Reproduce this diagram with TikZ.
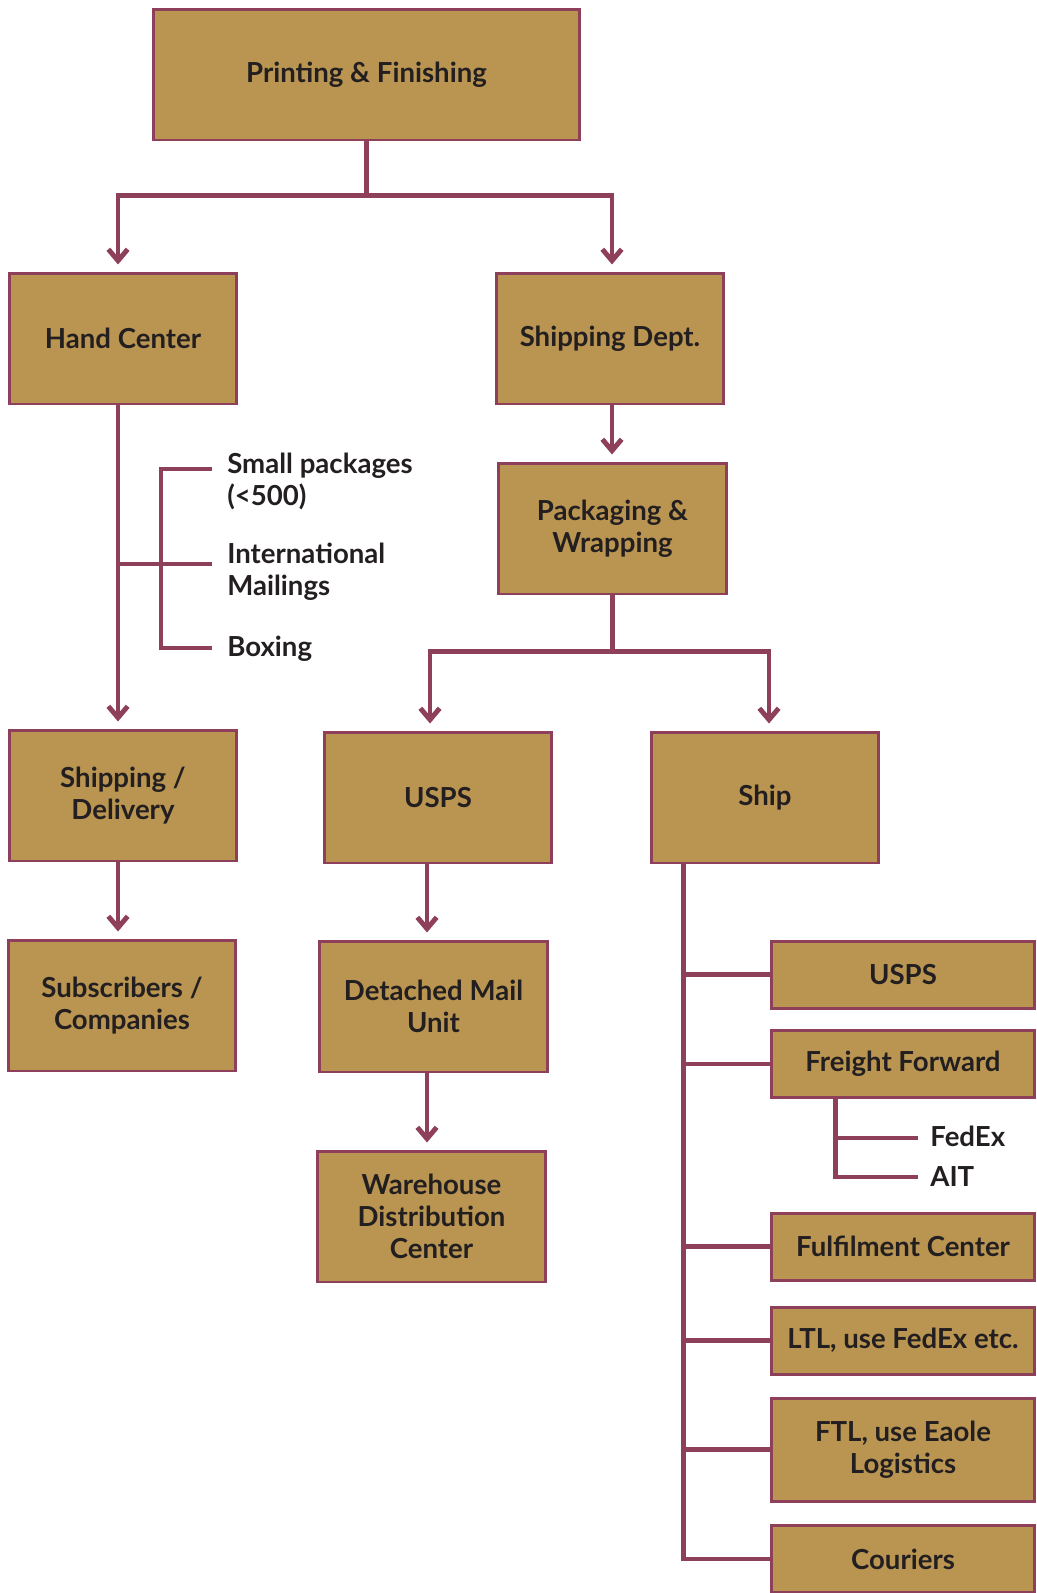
\documentclass[tikz,border=0pt]{standalone}
\usepackage{fontspec}
\setmainfont{Lato}[UprightFont={* Bold}]
\usetikzlibrary{arrows.meta,calc}
\definecolor{boxfill}{HTML}{B99551}
\definecolor{plum}{HTML}{8E3F5A}
\definecolor{ink}{HTML}{231F20}

\begin{document}
\begin{tikzpicture}[x=0.02cm,y=-0.02cm,
  every node/.style={font=\fontsize{15.7}{18.2}\selectfont, text=ink},
  box/.style={draw=plum, fill=boxfill, line width=1.7pt, minimum width=4.56cm,
              minimum height=2.62cm, align=center, inner sep=0pt},
  wide/.style={box, minimum width=8.54cm},
  slim/.style={box, minimum width=5.28cm, minimum height=1.34cm},
  link/.style={draw=plum, line width=2.8pt},
  arrowlink/.style={link, -{Straight Barb[length=6.5pt,width=11pt]}, shorten >=4pt},
  note/.style={anchor=west, align=left, inner sep=0pt}]

\useasboundingbox (0,0) rectangle (1037,1593);

% boxes
\node[wide] (pf) at (366.5,74.5) {Printing \& Finishing};
\node[box] (hc) at (123,338.5) {Hand Center};
\node[box] (sd) at (610,338.5) {Shipping Dept.};
\node[box] (pw) at (612.5,528.5) {Packaging \&\\Wrapping};
\node[box] (sdl) at (123,795.5) {Shipping /\\Delivery};
\node[box] (usps) at (438,797.5) {USPS};
\node[box] (ship) at (765,797.5) {Ship};
\node[box] (subs) at (122,1005.5) {Subscribers /\\Companies};
\node[box] (dmu) at (433.5,1006.5) {Detached Mail\\Unit};
\node[box] (wdc) at (431.5,1216.5) {Warehouse\\Distribution\\Center};
\node[slim] (susps) at (903,974.5) {USPS};
\node[slim] (ff) at (903,1064) {Freight Forward};
\node[slim] (fc) at (903,1246.5) {Fulfilment Center};
\node[slim] (ltl) at (903,1340.5) {LTL, use FedEx etc.};
\node[slim, minimum height=2.06cm] (ftl) at (903,1449.5) {FTL, use Eaole\\Logistics};
\node[slim] (cour) at (903,1559) {Couriers};

% side notes
\node[note] (lsp) at (227,481) {Small packages\\(<500)};
\node[note] (lim) at (227,572) {International\\Mailings};
\node[note] (lbx) at (227,649) {Boxing};
\node[note] (fedex) at (930,1136) {FedEx};
\node[note] (ait) at (930,1177) {AIT};

% top split
\draw[arrowlink] (pf.south) -- ++(0,54) -| ($(hc.north)+(-5,0)$);
\draw[arrowlink] (pf.south) -- ++(0,54) -| ($(sd.north)+(2,0)$);

% hand center column
\coordinate (hcs) at ($(hc.south)+(-5,0)$);
\draw[arrowlink] (hcs) -- (hcs |- sdl.north);
\coordinate (bkt) at ($(lsp.west)+(-15,-12)$);
\coordinate (bkm) at ($(lim.west)+(-15,-8)$);
\coordinate (bkb) at ($(lbx.west)+(-15,-1)$);
\draw[link] (bkt) -- ++(-51,0) |- (bkb);
\draw[link] (hcs |- bkm) -- (bkm);
\coordinate (sds) at ($(sdl.south)+(-5,0)$);
\draw[arrowlink] (sds) -- (sds |- subs.north);

% shipping dept column
\coordinate (sdb) at ($(sd.south)+(2,0)$);
\draw[arrowlink] (sdb) -- (sdb |- pw.north);
\draw[arrowlink] (pw.south) -- ++(0,56) -| ($(usps.north)+(-8,0)$);
\draw[arrowlink] (pw.south) -- ++(0,56) -| ($(ship.north)+(4,0)$);
\coordinate (uss) at ($(usps.south)+(-11,0)$);
\draw[arrowlink] (uss) -- (uss |- dmu.north);
\coordinate (dms) at ($(dmu.south)+(-6.5,0)$);
\draw[arrowlink] (dms) -- (dms |- wdc.north);

% ship options
\coordinate (shs) at ($(ship.south west)+(34,0)$);
\draw[link] (shs) |- (cour.west);
\foreach \n in {susps,ff,fc,ltl,ftl}
  \draw[link] (shs |- \n.west) -- (\n.west);

% freight forward carriers
\coordinate (ffs) at ($(ff.south west)+(66,0)$);
\coordinate (fxe) at ($(fedex.west)+(-12,2)$);
\coordinate (ate) at ($(ait.west)+(-12,0)$);
\draw[link] (ffs) |- (ate);
\draw[link] (ffs |- fxe) -- (fxe);
\end{tikzpicture}
\end{document}
